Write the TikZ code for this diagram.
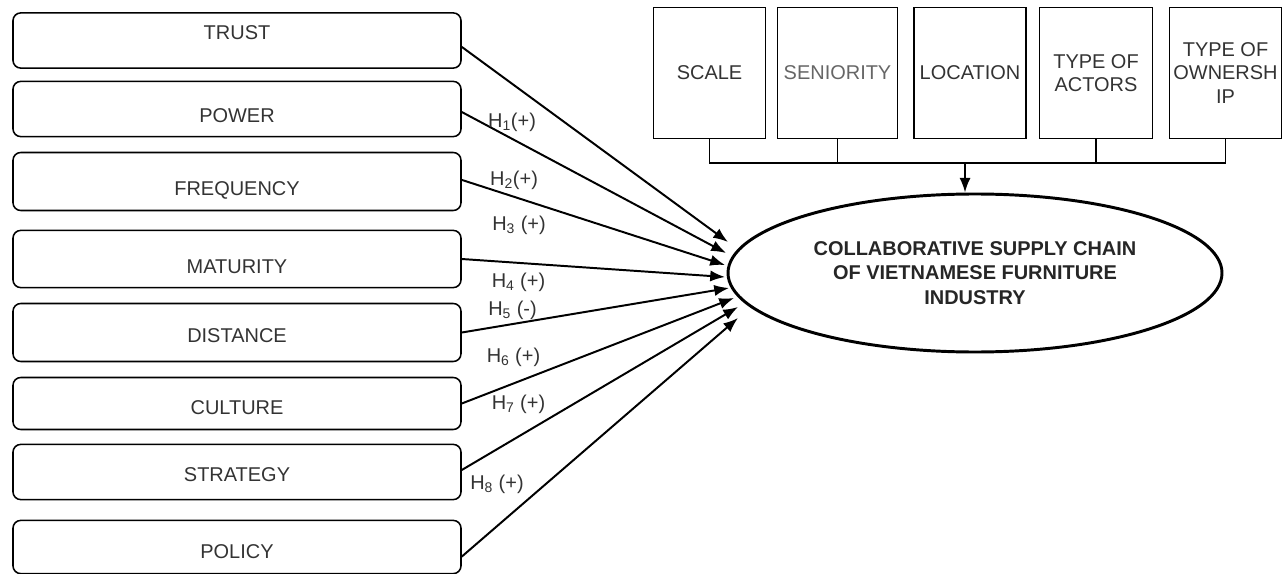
\documentclass[tikz,border=0pt]{standalone}
\usepackage{fontspec}
\setmainfont{Liberation Sans}
\usetikzlibrary{arrows.meta,shapes.geometric}

\newcommand{\lift}[2]{\raisebox{#1}[\height][\depth]{#2}}

\begin{document}
\begin{tikzpicture}[>={Latex[length=10.5pt,width=8pt]}]
      \tikzstyle{factor}=[rectangle,rounded corners=5.5pt,draw,line width=1.1pt,
        minimum width=11.2cm,minimum height=1.38cm,inner sep=1pt,
        text=black!80,font=\fontsize{14.2}{16.4}\selectfont]
      \tikzstyle{control}=[rectangle,draw,line width=1.1pt,
        minimum width=2.8cm,minimum height=3.27cm,inner sep=1pt,
        align=center,text=black!80,font=\fontsize{14.2}{16.7}\selectfont]
      \tikzstyle{hyp}=[inner sep=0pt,text=black!80,
        font=\fontsize{14.2}{16.4}\selectfont]

      \useasboundingbox (0,0) rectangle (32.1,-14.35);

      % determinants
      \node[factor] (trust) at (5.925,-1.0125)  {\lift{5.3pt}{TRUST}};
      \node[factor] (power) at (5.925,-2.725)   {\lift{-5pt}{POWER}};
      \node[factor][minimum height=1.45cm] (freq) at (5.925,-4.5375)
           {\lift{-6pt}{FREQUENCY}};
      \node[factor][minimum height=1.43cm] (matu) at (5.925,-6.475)
           {\lift{-5.7pt}{MATURITY}};
      \node[factor][minimum height=1.45cm] (dist) at (5.925,-8.3125)
           {\lift{-2.5pt}{DISTANCE}};
      \node[factor][minimum height=1.3cm] (cult) at (5.925,-10.0875)
           {\lift{-3.2pt}{CULTURE}};
      \node[factor] (strat) at (5.925,-11.8)   {\lift{-2.1pt}{STRATEGY}};
      \node[factor][minimum height=1.33cm] (poli) at (5.925,-13.675)
           {\lift{-3.6pt}{POLICY}};

      % control variables
      \node[control] (scale) at (17.7375,-1.825) {SCALE};
      \node[control][minimum width=3cm,text=black!60] (seni) at (20.9375,-1.825)
           {SENIORITY};
      \node[control] (loca) at (24.25,-1.825)   {LOCATION};
      \node[control][minimum width=2.82cm] (acto) at (27.4,-1.825)
           {TYPE OF\\ACTORS};
      \node[control] (owne) at (30.6375,-1.825) {TYPE OF\\OWNERSH\\IP};

      \node[ellipse,draw,line width=2.1pt,minimum width=12.35cm,
            minimum height=3.95cm,inner sep=0pt,align=center,text=black!85,
            font=\bfseries\fontsize{14.2}{17.4}\selectfont] (csc)
            at (24.375,-6.825)
            {COLLABORATIVE SUPPLY CHAIN\\OF VIETNAMESE FURNITURE\\INDUSTRY};

      \tikzstyle{ar}=[->,line width=1.4pt]
      \tikzstyle{bus}=[line width=1.2pt]

      \coordinate (bus) at (24.125,-4.075);
      \draw[bus] (scale.south) -- (scale.south |- bus) -- (owne.south |- bus)
           -- (owne.south);
      \draw[bus] (seni.south) -- (seni.south |- bus);
      \draw[bus] (acto.south) -- (acto.south |- bus);
      \draw[ar] (bus) -- (bus |- csc.north);

      \coordinate (in1) at (18.2,-6.05);
      \coordinate (in2) at (18.15,-6.325);
      \coordinate (in3) at (18.125,-6.625);
      \coordinate (in4) at (18.125,-6.925);
      \coordinate (in5) at (18.225,-7.2);
      \coordinate (in6) at (18.35,-7.45);
      \coordinate (in7) at (18.45,-7.675);
      \coordinate (in8) at (18.45,-7.95);

      \draw[ar] ([yshift=-0.16cm]trust.east) -- (in1);
      \draw[ar] ([yshift=-0.075cm]power.east) -- (in2);
      \draw[ar] ([yshift=0.04cm]freq.east) -- (in3);
      \draw[ar] (matu.east) -- (in4);
      \draw[ar] (dist.east) -- (in5);
      \draw[ar] (cult.east) -- (in6);
      \draw[ar] ([yshift=0.05cm]strat.east) -- (in7);
      \draw[ar] ([yshift=-0.24cm]poli.east) -- (in8);

      % hypotheses
      \node[hyp] (h1) at (12.8,-3.05)     {H\textsubscript{1}(+)};
      \node[hyp] (h2) at (12.85,-4.5)     {H\textsubscript{2}(+)};
      \node[hyp] (h3) at (12.975,-5.625)  {H\textsubscript{3} (+)};
      \node[hyp] (h4) at (12.9625,-7.05)  {H\textsubscript{4} (+)};
      \node[hyp] (h5) at (12.8125,-7.75)  {H\textsubscript{5} (-)};
      \node[hyp] (h6) at (12.8375,-8.925) {H\textsubscript{6} (+)};
      \node[hyp] (h7) at (12.9625,-10.1)  {H\textsubscript{7} (+)};
      \node[hyp] (h8) at (12.425,-12.1)   {H\textsubscript{8} (+)};

\end{tikzpicture}
\end{document}
